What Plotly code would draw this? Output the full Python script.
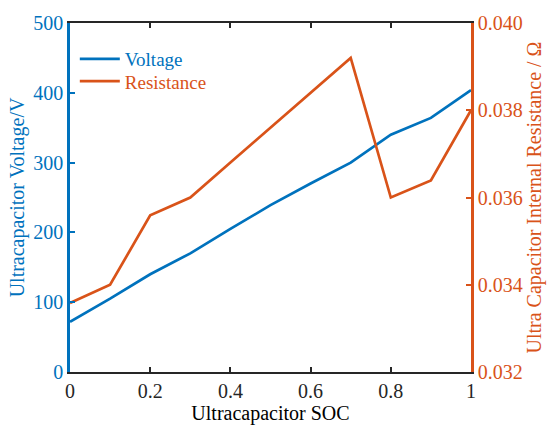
import plotly.graph_objects as go

soc = [0, 0.1, 0.2, 0.3, 0.4, 0.5, 0.6, 0.7, 0.8, 0.9, 1.0]
voltage = [72, 105, 140, 170, 205, 239, 270, 300, 340, 364, 404]
resistance = [0.03358, 0.0340, 0.03559, 0.0360, 0.0368, 0.0376, 0.0384, 0.0392, 0.0360, 0.03639, 0.0380]

BLUE = "#0072BD"
ORANGE = "#D95319"
FONT = "Liberation Serif"
FS = 20
LFS = 19

fig = go.Figure()
fig.add_trace(go.Scatter(x=soc, y=voltage, mode="lines", legend="legend",
                         name=f"<span style='color:{BLUE}'>Voltage</span>",
                         line=dict(color=BLUE, width=2.7)))
fig.add_trace(go.Scatter(x=soc, y=resistance, mode="lines", yaxis="y2", legend="legend2",
                         name=f"<span style='color:{ORANGE}'>Resistance</span>",
                         line=dict(color=ORANGE, width=2.7)))

leg_common = dict(xanchor="left", yanchor="middle", bgcolor="rgba(0,0,0,0)",
                  font=dict(size=LFS, family=FONT), itemwidth=40)

fig.update_layout(
    width=553, height=430,
    margin=dict(l=70, r=80, t=18, b=53),
    paper_bgcolor="white", plot_bgcolor="white",
    font=dict(family=FONT, size=FS, color="black"),
    showlegend=True,
    legend=dict(x=0.012, y=0.897, **leg_common),
    legend2=dict(x=0.012, y=0.833, **leg_common),
    xaxis=dict(range=[0, 1], tickvals=[0, 0.2, 0.4, 0.6, 0.8, 1],
               ticktext=["0", "0.2", "0.4", "0.6", "0.8", "1"],
               ticks="inside", ticklen=5, tickwidth=2, tickcolor="#262626",
               showline=True, linecolor="#262626", linewidth=2, mirror="ticks",
               showgrid=False, zeroline=False,
               tickfont=dict(size=FS, color="#262626", family=FONT),
               title=dict(text="Ultracapacitor SOC", font=dict(size=FS, color="black", family=FONT), standoff=2)),
    yaxis=dict(range=[0, 500], tickvals=[0, 100, 200, 300, 400, 500],
               ticks="inside", ticklen=5, tickwidth=2, tickcolor=BLUE,
               showline=True, linecolor=BLUE, linewidth=2.7,
               showgrid=False, zeroline=False,
               tickfont=dict(size=FS, color=BLUE, family=FONT),
               title=dict(text="Ultracapacitor Voltage/V", font=dict(size=FS, color=BLUE, family=FONT), standoff=4)),
    yaxis2=dict(range=[0.032, 0.040], overlaying="y", side="right",
                tickvals=[0.032, 0.034, 0.036, 0.038, 0.040],
                ticktext=["0.032", "0.034", "0.036", "0.038", "0.040"],
                ticks="inside", ticklen=5, tickwidth=2, tickcolor=ORANGE,
                showline=True, linecolor=ORANGE, linewidth=2.7,
                showgrid=False, zeroline=False,
                tickfont=dict(size=FS, color=ORANGE, family=FONT),
                title=dict(text="Ultra Capacitor Internal Resistance / Ω", font=dict(size=FS, color=ORANGE, family=FONT), standoff=4)),
)

fig.write_html("out.html")
